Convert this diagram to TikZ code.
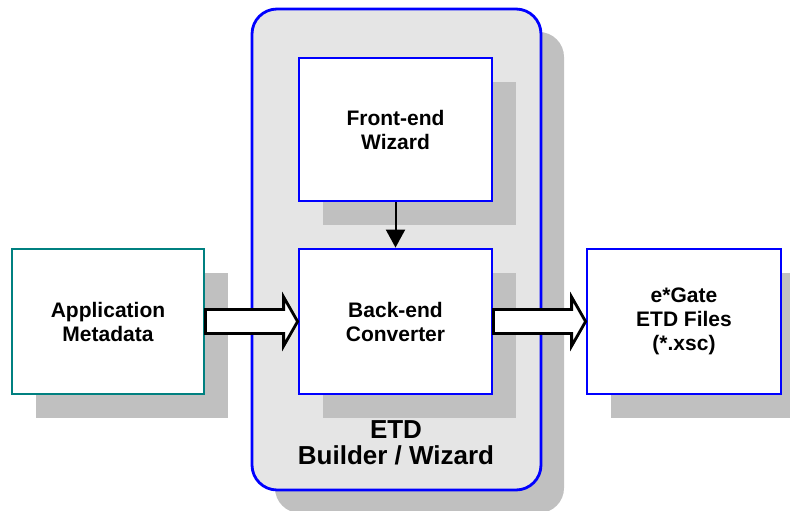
\documentclass[tikz,border=0pt]{standalone}
\usepackage{fontspec}
\setmainfont{Liberation Sans}
\usetikzlibrary{shadows,arrows.meta,calc}
\definecolor{panelgray}{RGB}{229,229,229}
\definecolor{shadowgray}{RGB}{192,192,192}
\definecolor{tealline}{RGB}{0,128,128}
\tikzset{
  boxshadow/.style={drop shadow={shadow xshift=24pt,shadow yshift=-24pt,fill=shadowgray,opacity=1}},
  stagebox/.style={draw=blue,fill=white,line width=2.8pt,boxshadow,minimum width=193pt,minimum height=145pt,
    inner sep=0pt,align=center,font=\bfseries\fontsize{21}{24}\selectfont},
  hollow/.style={draw=black,fill=white,line width=2.8pt,line join=miter}
}
\begin{document}
\begin{tikzpicture}[x=1pt,y=-1pt]
\useasboundingbox (0,0) rectangle (790,511);
\node[draw=blue,fill=panelgray,line width=2.8pt,rounded corners=25pt,minimum width=289pt,minimum height=481pt,
  drop shadow={shadow xshift=23pt,shadow yshift=-23pt,fill=shadowgray,opacity=1}] (builder) at (396.5,249.5) {};
\node[align=center,font=\bfseries\fontsize{26}{26}\selectfont] (builderlabel) at (396,443) {ETD\\Builder / Wizard};

\node[stagebox,minimum height=143pt] (front) at (395.5,129.5) {Front-end\\Wizard};
\node[stagebox] (back) at (395.5,321.5) {Back-end\\Converter};
\node[stagebox,draw=tealline,minimum width=192pt] (app) at (108,321.5) {Application\\Metadata};
\node[stagebox,minimum width=194pt] (gate) at (684,321.5) {e*Gate\\ETD Files\\(*.xsc)};

\draw[-{Triangle[length=18pt,width=19pt]},line width=2pt] (front) -- (back);

\draw[hollow] ($(app.east)+(0,-12)$) -- ($(back.west)+(-14,-12)$) -- ($(back.west)+(-14,-24.5)$) -- (back.west)
  -- ($(back.west)+(-14,24.5)$) -- ($(back.west)+(-14,12)$) -- ($(app.east)+(0,12)$) -- cycle;
\draw[hollow] ($(back.east)+(0,-12)$) -- ($(gate.west)+(-14,-12)$) -- ($(gate.west)+(-14,-24.5)$) -- (gate.west)
  -- ($(gate.west)+(-14,24.5)$) -- ($(gate.west)+(-14,12)$) -- ($(back.east)+(0,12)$) -- cycle;
\end{tikzpicture}
\end{document}
